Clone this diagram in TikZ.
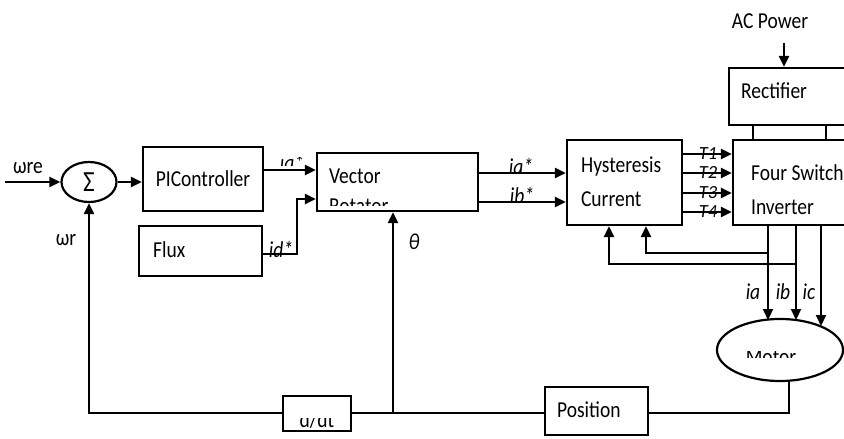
\documentclass[tikz,border=0pt]{standalone}
\usepackage{fontspec}
\usepackage{graphicx}
\setmainfont{Carlito}
\usetikzlibrary{arrows.meta,shapes.geometric,calc}
\newcommand\tallt[1]{\scalebox{1}[1.17]{#1}}
\begin{document}
\begin{tikzpicture}[x=1pt,y=-1pt,
  line width=2.2pt,
  every node/.style={font=\fontsize{19.5}{22}\selectfont},
  box/.style={draw, line width=2.2pt, inner sep=0pt},
  lbl/.style={inner sep=0pt},
  ilbl/.style={inner sep=0pt, font=\fontsize{19.5}{22}\selectfont\itshape},
  tlbl/.style={inner sep=0pt, text height=12pt, text depth=0pt, font=\fontsize{18.5}{19}\selectfont\itshape},
  arr/.style={-{Triangle[length=11pt,width=10pt]}}]
\useasboundingbox (0,0) rectangle (844,439);
\clip (0,0) rectangle (844,439);
% blocks
\node[box, ellipse, minimum width=55, minimum height=40] (sum) at (89,182) {\scalebox{1.3}[1.5]{Σ}};
\node[box, minimum width=120, minimum height=64] (pi) at (203,179) {\tallt{PIController}};
\node[box, minimum width=123, minimum height=50] (flux) at (200.5,251) {};
\node[lbl, anchor=west] (fluxt) at (152,250) {\tallt{Flux}};
\node[box, minimum width=161, minimum height=58] (vec) at (397.5,182) {};
\node[lbl, anchor=west] (vect) at (328,176) {\tallt{Vector}};
\begin{scope}
  \clip (320,198) rectangle (470,205);
  \node[lbl, anchor=base west] (vect2) at (328,213) {\tallt{Rotator}};
\end{scope}
\node[box, minimum width=115, minimum height=85] (hyst) at (624.5,182.5) {};
\node[lbl, anchor=west] (hyst1) at (580,166) {\tallt{Hysteresis}};
\node[lbl, anchor=west] (hyst2) at (580,199) {\tallt{Current}};
\node[box, minimum width=120, minimum height=85] (inv) at (793,182.5) {};
\node[lbl, anchor=west] (inv1) at (750,173) {\tallt{Four Switch}};
\node[lbl, anchor=west] (inv2) at (750,207) {\tallt{Inverter}};
\node[box, minimum width=125, minimum height=57] (rect) at (791.5,96.5) {};
\node[lbl, anchor=west] (rectt) at (740,91) {\tallt{Rectifier}};
\node[lbl] (ac) at (770,21) {\tallt{AC Power}};
\node[box, ellipse, minimum width=126, minimum height=62] (motor) at (780,350) {};
\begin{scope}
  \clip (720,351) rectangle (840,357);
  \node[lbl, anchor=base] (motort) at (771,364) {\tallt{Motor}};
\end{scope}
\node[box, minimum width=68, minimum height=35] (ddt) at (317,413.5) {};
\begin{scope}
  \clip (290,418) rectangle (345,430);
  \node[lbl, anchor=base] (ddtt) at (317,427) {\tallt{d/dt}};
\end{scope}
\node[box, minimum width=103, minimum height=48] (pos) at (596.5,411) {};
\node[lbl, anchor=west] (post) at (556,410) {\tallt{Position}};
% labels
\node[lbl] (wrel) at (28,168) {\tallt{ωre}};
\node[lbl] (wrl) at (66,240) {\tallt{ωr}};
\begin{scope}
  \clip (270,157) rectangle (316,165);
  \node[ilbl] (iql) at (292,164) {\tallt{iq*}};
\end{scope}
\node[ilbl] (idl) at (281,249) {\tallt{id*}};
\node[ilbl] (thl) at (414,242) {\tallt{θ}};
\node[ilbl] (ial) at (521,166) {\tallt{ia*}};
\node[ilbl] (ibl) at (522,195) {\tallt{ib*}};
\node[tlbl] (t1) at (708,153) {T1};
\node[tlbl] (t2) at (708,172.5) {T2};
\node[tlbl] (t3) at (708,192) {T3};
\node[tlbl] (t4) at (708,211.5) {T4};
\node[ilbl] (ial2) at (753,292) {\tallt{ia}};
\node[ilbl] (ibl2) at (783,292) {\tallt{ib}};
\node[ilbl] (icl2) at (809,292) {\tallt{ic}};
% coordinates
\coordinate (wre) at (5,182);
\coordinate (fx1) at (297,254);
\coordinate (fx2) at (297,199);
\coordinate (acin) at (784,43);
\coordinate (ma) at (768,320);
\coordinate (mb) at (796,320);
\coordinate (mc) at (821,326);
\coordinate (fb1a) at (768,253);
\coordinate (fb1b) at (646,253);
\coordinate (fb2a) at (796,264);
\coordinate (fb2b) at (609,264);
\coordinate (mo) at (789,381);
\coordinate (mo2) at (789,413);
\coordinate (jn) at (393,413);
\coordinate (fbl) at (89,413);
% connectors
\draw[arr] (wre) -- (sum.west);
\draw[arr] (sum.east) -- (pi.west |- sum.east);
\draw[arr] (pi.east |- 0,170) -- (vec.west |- 0,170);
\draw[arr] (flux.east |- fx1) -- (fx1) -- (fx2) -- (vec.west |- fx2);
\draw[arr] (vec.east |- 0,173) -- (hyst.west |- 0,173);
\draw[arr] (vec.east |- 0,202) -- (hyst.west |- 0,202);
\foreach \yy in {154,173,193,212}
  \draw[arr] (hyst.east |- 0,\yy) -- (inv.west |- 0,\yy);
\draw (rect.south -| 753,0) -- (inv.north -| 753,0);
\draw (rect.south -| 826,0) -- (inv.north -| 826,0);
\draw[arr] (acin) -- (rect.north -| acin);
\draw[arr] (inv.south -| ma) -- (ma);
\draw[arr] (inv.south -| mb) -- (mb);
\draw[arr] (inv.south -| mc) -- (mc);
\draw[arr] (fb1a) -- (fb1b) -- (hyst.south -| fb1b);
\draw[arr] (fb2a) -- (fb2b) -- (hyst.south -| fb2b);
\draw (mo) -- (mo2) -- (pos.east |- mo2);
\draw (pos.west |- jn) -- (ddt.east |- jn);
\draw[arr] (jn) -- (vec.south -| jn);
\draw[arr] (ddt.west |- fbl) -- (fbl) -- (sum.south);
\end{tikzpicture}
\end{document}
